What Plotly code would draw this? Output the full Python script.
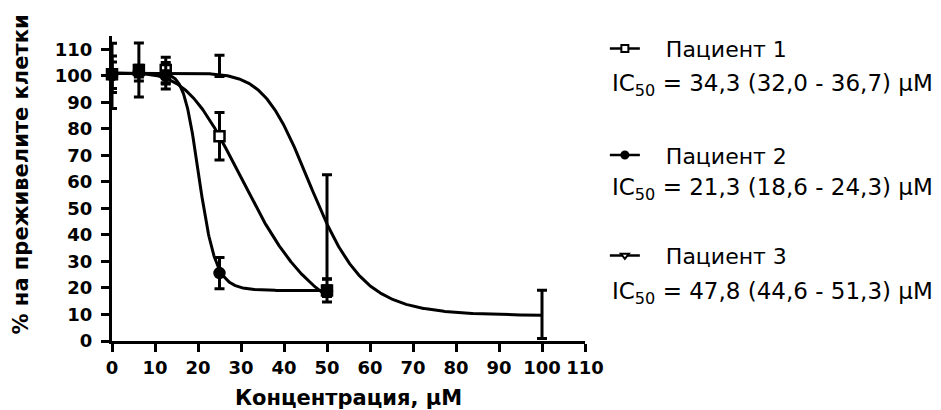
import numpy as np
import plotly.graph_objects as go

# ---- data ----
conc = [0, 6.25, 12.5, 25, 50, 100]

p1_mean = [100.6, 102.2, 102.2, 77.2, 19.0]
p1_sd = [6.9, 10.2, 4.8, 9.0, 4.3]

p2_mean = [100.2, 101.5, 100.0, 25.6, 18.8]
p2_sd = [5.0, 2.0, 5.0, 5.9, 2.0]

p3_mean = [100.0, 101.0, 99.4, 103.7, 43.1, 10.0]
p3_sd = [12.3, 3.0, 2.5, 4.0, 19.6, 9.1]

names = ["Пациент 1", "Пациент 2", "Пациент 3"]
ic50_text = ["34,3 (32,0 - 36,7)", "21,3 (18,6 - 24,3)", "47,8 (44,6 - 51,3)"]

# fitted sigmoid curve parameters (as drawn)
curve_top = [101.0, 101.0, 101.0]
curve_bottom = [0.0, 19.0, 9.5]
curve_mid = [33.5, 20.4, 47.0]
curve_hill = [4.0, 11.0, 8.0]
curve_end = [50, 50, 100]

ytick_vals = list(range(0, 111, 10))
xtick_vals = list(range(0, 111, 10))

FONT = "DejaVu Sans, Arial, sans-serif"

symbols = ["square", "circle", "triangle-down-open"]
fills = ["white", "black", "rgba(0,0,0,0)"]
sizes = [10, 10, 12]
means = [p1_mean, p2_mean, p3_mean]
sds = [p1_sd, p2_sd, p3_sd]

fig = go.Figure()

# curves
for i in range(3):
    xs = np.linspace(0, curve_end[i], 400)
    ys = curve_bottom[i] + (curve_top[i] - curve_bottom[i]) / (1 + (xs / curve_mid[i]) ** curve_hill[i])
    fig.add_trace(go.Scatter(x=xs, y=ys, mode="lines", line=dict(color="black", width=3),
                             showlegend=False, hoverinfo="skip", cliponaxis=False))

# data points with error bars
for i in range(3):
    n = len(means[i])
    fig.add_trace(go.Scatter(
        x=conc[:n], y=means[i], mode="markers",
        marker=dict(symbol=symbols[i], size=sizes[i], color=fills[i],
                    line=dict(color="black", width=2.5)),
        error_y=dict(type="data", array=sds[i], visible=True, color="black",
                     thickness=3, width=5),
        showlegend=False, cliponaxis=False))

# legend entries (one legend per patient)
legend_keys = ["legend", "legend2", "legend3"]
legend_y = [0.958, 0.609, 0.28]
leg_symbols = ["square", "circle", "triangle-down"]
leg_fill = ["white", "black", "white"]
for i in range(3):
    fig.add_trace(go.Scatter(
        x=[None], y=[None], mode="lines+markers",
        name="\u00a0\u00a0\u00a0" + names[i],
        line=dict(color="black", width=2.5),
        marker=dict(symbol=leg_symbols[i], size=7, color=leg_fill[i],
                    line=dict(color="black", width=2)),
        legend=legend_keys[i], showlegend=True))

legend_common = dict(xref="paper", yref="paper", x=1.042, xanchor="left", yanchor="middle",
                     font=dict(family=FONT, size=22, color="black"),
                     bgcolor="rgba(0,0,0,0)", borderwidth=0, itemwidth=30)
fig.update_layout(
    legend=dict(y=legend_y[0], **legend_common),
    legend2=dict(y=legend_y[1], **legend_common),
    legend3=dict(y=legend_y[2], **legend_common),
)

# IC50 annotations
ic_y = [0.840, 0.498, 0.156]
for i in range(3):
    fig.add_annotation(xref="paper", yref="paper", x=1.052, y=ic_y[i], xanchor="left", yanchor="middle",
                       text="IC<sub>50</sub> = " + ic50_text[i] + " μM", showarrow=False,
                       font=dict(family=FONT, size=23, color="black"))

# y-axis title as rotated annotation
fig.add_annotation(xref="paper", yref="paper", x=-0.193, y=0.545, xanchor="center", yanchor="middle",
                   text="% на преживелите клетки", textangle=-90, showarrow=False,
                   font=dict(family=FONT, size=21, color="black", weight="bold"))

axis_common = dict(showline=True, linewidth=3, linecolor="black", ticks="outside", ticklen=8,
                   tickwidth=3, tickcolor="black", showgrid=False, zeroline=False,
                   tickfont=dict(family=FONT, size=18, color="black", weight="bold"))

fig.update_xaxes(range=[0, 110], tickvals=xtick_vals,
                 title=dict(text="Концентрация, μM", standoff=14,
                            font=dict(family=FONT, size=21, color="black", weight="bold")),
                 **axis_common)
fig.update_yaxes(range=[0, 115], tickvals=ytick_vals, ticklabelstandoff=5, **axis_common)

fig.update_layout(width=941, height=410, margin=dict(l=104, r=364, t=28, b=75),
                  plot_bgcolor="white", paper_bgcolor="white",
                  font=dict(family=FONT, color="black"))

fig.write_html("out.html")
